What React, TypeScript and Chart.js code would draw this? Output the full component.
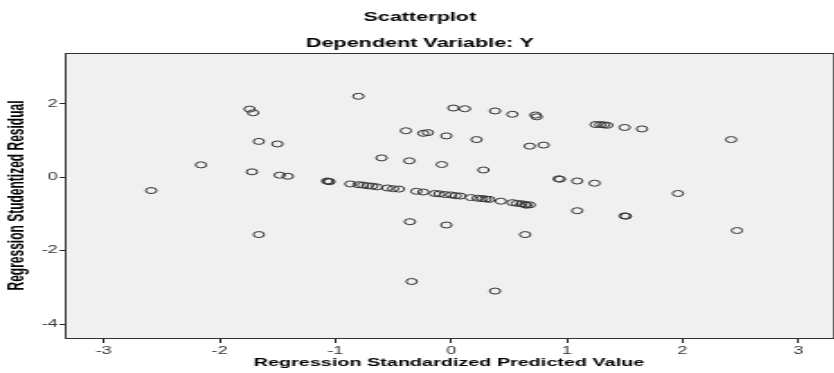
import React, { useEffect, useRef } from "react";
import { Chart, registerables } from "chart.js";

Chart.register(...registerables);

// ---- data ----
const predictedValues: number[] = [
  -2.59, -2.16, -1.74, -1.71, -1.66, -1.5, -1.72, -1.48, -1.41, -1.66,
  -0.8, 0.02, 0.12, 0.38, 0.53, 0.73, 0.74, -0.39, -0.24, -0.2, -0.04, 0.22, 0.68, 0.8, -0.6, -0.36, -0.08, 0.28,
  1.25, 1.29, 1.32, 1.35, 1.5, 1.65, 2.42,
  -1.07, -1.06, -1.05, -0.87, -0.8, -0.76, -0.72, -0.68, -0.64, -0.55, -0.5, -0.45, -0.3, -0.24, -0.14, -0.1,
  -0.05, 0.0, 0.04, 0.08, 0.17, 0.23, 0.27, 0.3, 0.33, 0.43, 0.53, 0.57, 0.61, 0.64, 0.65, 0.68,
  0.93, 0.94, 1.09, 1.24, 1.96, 1.09, 1.5, 1.51, 2.47,
  -0.355, -0.04, 0.64, -0.34, 0.38,
];
const studentizedResiduals: number[] = [
  -0.36, 0.34, 1.86, 1.76, 0.98, 0.91, 0.15, 0.06, 0.03, -1.56,
  2.21, 1.89, 1.87, 1.81, 1.72, 1.7, 1.65, 1.27, 1.2, 1.22, 1.13, 1.03, 0.85, 0.88, 0.53, 0.45, 0.35, 0.2,
  1.44, 1.44, 1.43, 1.42, 1.36, 1.32, 1.03,
  -0.1, -0.11, -0.12, -0.18, -0.2, -0.21, -0.23, -0.24, -0.26, -0.29, -0.31, -0.32, -0.38, -0.4, -0.44, -0.45,
  -0.47, -0.48, -0.5, -0.51, -0.55, -0.57, -0.58, -0.59, -0.6, -0.65, -0.69, -0.71, -0.72, -0.74, -0.76, -0.75,
  -0.04, -0.05, -0.1, -0.16, -0.44, -0.91, -1.05, -1.06, -1.45,
  -1.21, -1.3, -1.56, -2.84, -3.1,
];
const xTicks: number[] = [-3, -2, -1, 0, 1, 2, 3];
const yTicks: number[] = [-4, -2, 0, 2];
const xRange: [number, number] = [-3.335, 3.3];
const yRange: [number, number] = [-4.38, 3.39];

const titleText = "Scatterplot";
const subtitleText = "Dependent Variable: Y";
const xTitle = "Regression Standardized Predicted Value";
const yTitle = "Regression Studentized Residual";

// ---- layout (the reference is horizontally stretched) ----
const STRETCH = 1.8;
const DISPLAY_W = 842;
const DISPLAY_H = 373;
const W = Math.round(DISPLAY_W / STRETCH);
const AREA_LEFT = 65 / STRETCH;
const AREA_RIGHT = 840 / STRETCH;
const FONT = "'Liberation Sans', Arial, Helvetica, sans-serif";

const framePlugin = {
  id: "frame",
  beforeDraw(chart: any) {
    const { ctx, chartArea } = chart;
    ctx.save();
    ctx.fillStyle = "#f0f0f0";
    ctx.fillRect(chartArea.left, chartArea.top, chartArea.right - chartArea.left, chartArea.bottom - chartArea.top);
    ctx.restore();
  },
  afterDraw(chart: any) {
    const { ctx, chartArea } = chart;
    ctx.save();
    ctx.strokeStyle = "#333";
    ctx.lineWidth = 1;
    ctx.strokeRect(
      Math.round(chartArea.left) + 0.5,
      Math.round(chartArea.top) + 0.5,
      Math.round(chartArea.right - chartArea.left),
      Math.round(chartArea.bottom - chartArea.top)
    );
    ctx.restore();
  },
};

export default function App() {
  const ref = useRef<HTMLCanvasElement | null>(null);

  useEffect(() => {
    if (!ref.current) return;
    const points = predictedValues.map((x, i) => ({ x, y: studentizedResiduals[i] }));
    const chart = new Chart(ref.current, {
      type: "scatter",
      data: {
        datasets: [
          {
            data: points,
            pointStyle: "circle",
            pointRadius: 3,
            pointBorderWidth: 1,
            borderColor: "#333",
            backgroundColor: "rgba(0,0,0,0)",
          },
        ],
      },
      options: {
        responsive: false,
        animation: false,
        devicePixelRatio: 1,
        layout: { padding: { left: 0, right: W - AREA_RIGHT, top: 0, bottom: 0 } },
        plugins: {
          legend: { display: false },
          tooltip: { enabled: false },
          title: {
            display: true,
            text: titleText,
            color: "#000",
            font: { family: FONT, size: 12, weight: "bold" },
            padding: { top: 10.5, bottom: 0 },
          },
          subtitle: {
            display: true,
            text: subtitleText,
            color: "#000",
            font: { family: FONT, size: 12, weight: "bold" },
            padding: { top: 11.2, bottom: 2.5 },
          },
        },
        scales: {
          x: {
            type: "linear",
            min: xRange[0],
            max: xRange[1],
            afterFit: (s: any) => {
              s.height = 35;
            },
            afterBuildTicks: (s: any) => {
              s.ticks = xTicks.map((v) => ({ value: v }));
            },
            ticks: {
              color: "#333",
              font: { family: FONT, size: 10 },
              padding: 2.5,
              maxRotation: 0,
              autoSkip: false,
            },
            grid: { display: true, drawOnChartArea: false, drawTicks: true, tickLength: 5, color: "#222" },
            border: { display: true, color: "#333" },
            title: {
              display: true,
              text: xTitle,
              color: "#000",
              font: { family: FONT, size: 11, weight: "bold" },
              padding: { top: 0, bottom: 3.4 },
            },
          },
          y: {
            type: "linear",
            min: yRange[0],
            max: yRange[1],
            afterFit: (s: any) => {
              s.width = AREA_LEFT;
            },
            afterBuildTicks: (s: any) => {
              s.ticks = yTicks.map((v) => ({ value: v }));
            },
            ticks: {
              color: "#333",
              font: { family: FONT, size: 10 },
              padding: 1,
              autoSkip: false,
            },
            grid: { display: true, drawOnChartArea: false, drawTicks: true, tickLength: 3, color: "#222" },
            border: { display: true, color: "#333" },
            title: {
              display: true,
              text: yTitle,
              color: "#000",
              font: { family: FONT, size: 12, weight: "bold" },
              padding: { top: 2, bottom: 0 },
            },
          },
        },
      },
      plugins: [framePlugin],
    });
    return () => chart.destroy();
  }, []);

  return (
    <div style={{ position: "fixed", left: 0, top: 0, width: DISPLAY_W, height: DISPLAY_H, overflow: "hidden", background: "#fff" }}>
      <canvas
        ref={ref}
        width={W}
        height={DISPLAY_H}
        style={{ width: `${DISPLAY_W}px`, height: `${DISPLAY_H}px`, display: "block" }}
      />
    </div>
  );
}
